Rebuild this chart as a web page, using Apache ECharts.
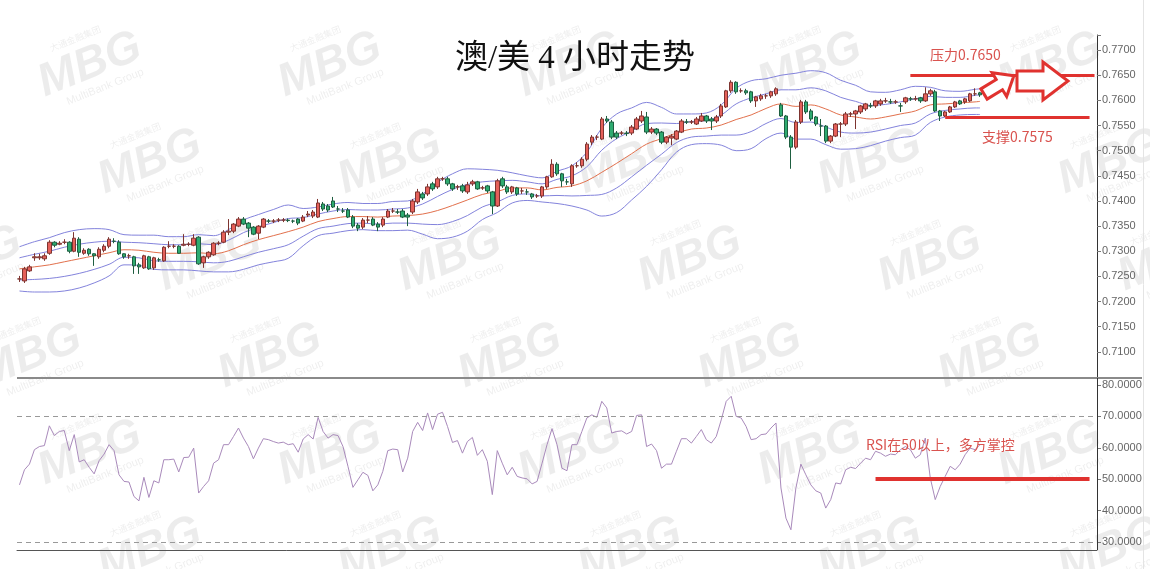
<!DOCTYPE html>
<html>
<head>
<meta charset="utf-8">
<script src="https://cdn.jsdelivr.net/npm/echarts@6/dist/echarts.min.js"></script>
<style>
  html, body { margin: 0; padding: 0; background: #fff; }
  #main { width: 1150px; height: 569px; }
</style>
</head>
<body>
<div id="main"></div>
<script>
// K线数据 [开, 收, 低, 高]
const candles = [
  [0.7245,0.7245,0.7239,0.7251],[0.7241,0.7265,0.7237,0.7269],[0.7261,0.7269,0.7259,0.7273],[0.7287,0.7289,0.7281,0.7296],
  [0.7287,0.7289,0.7283,0.7295],[0.7285,0.7291,0.7281,0.7296],[0.7296,0.7318,0.7293,0.7322],[0.7318,0.7312,0.7308,0.7320],
  [0.7314,0.7316,0.7312,0.7320],[0.7318,0.7318,0.7314,0.7324],[0.7318,0.7300,0.7296,0.7320],[0.7300,0.7326,0.7298,0.7338],
  [0.7324,0.7298,0.7289,0.7328],[0.7296,0.7302,0.7293,0.7306],[0.7304,0.7295,0.7291,0.7306],[0.7295,0.7291,0.7271,0.7296],
  [0.7289,0.7304,0.7285,0.7308],[0.7302,0.7310,0.7298,0.7314],[0.7310,0.7324,0.7306,0.7328],[0.7320,0.7320,0.7316,0.7326],
  [0.7318,0.7295,0.7293,0.7322],[0.7295,0.7289,0.7285,0.7296],[0.7291,0.7291,0.7285,0.7295],[0.7289,0.7271,0.7255,0.7291],
  [0.7273,0.7269,0.7255,0.7277],[0.7267,0.7291,0.7265,0.7293],[0.7289,0.7265,0.7263,0.7291],[0.7267,0.7287,0.7263,0.7289],
  [0.7283,0.7283,0.7279,0.7287],[0.7281,0.7308,0.7279,0.7310],[0.7310,0.7310,0.7306,0.7320],[0.7310,0.7310,0.7306,0.7314],
  [0.7310,0.7296,0.7295,0.7312],[0.7312,0.7314,0.7310,0.7334],[0.7314,0.7314,0.7310,0.7318],[0.7312,0.7326,0.7310,0.7334],
  [0.7328,0.7275,0.7273,0.7330],[0.7277,0.7289,0.7267,0.7291],[0.7289,0.7298,0.7285,0.7300],[0.7293,0.7316,0.7291,0.7318],
  [0.7316,0.7316,0.7312,0.7320],[0.7318,0.7338,0.7316,0.7342],[0.7338,0.7340,0.7332,0.7364],[0.7340,0.7354,0.7336,0.7356],
  [0.7350,0.7364,0.7348,0.7368],[0.7364,0.7354,0.7352,0.7368],[0.7356,0.7346,0.7328,0.7358],[0.7348,0.7334,0.7332,0.7350],
  [0.7336,0.7350,0.7324,0.7352],[0.7348,0.7364,0.7346,0.7366],[0.7360,0.7360,0.7356,0.7364],[0.7360,0.7360,0.7356,0.7364],
  [0.7362,0.7362,0.7358,0.7366],[0.7362,0.7362,0.7358,0.7366],[0.7362,0.7361,0.7358,0.7365],[0.7360,0.7360,0.7356,0.7363],
  [0.7364,0.7356,0.7352,0.7366],[0.7360,0.7368,0.7358,0.7372],[0.7372,0.7374,0.7368,0.7380],[0.7370,0.7378,0.7366,0.7382],
  [0.7368,0.7396,0.7366,0.7404],[0.7394,0.7384,0.7380,0.7398],[0.7390,0.7382,0.7378,0.7394],[0.7400,0.7388,0.7386,0.7408],
  [0.7384,0.7384,0.7378,0.7390],[0.7380,0.7380,0.7376,0.7386],[0.7382,0.7368,0.7366,0.7386],[0.7368,0.7350,0.7346,0.7372],
  [0.7352,0.7346,0.7340,0.7356],[0.7348,0.7362,0.7344,0.7366],[0.7362,0.7362,0.7356,0.7370],[0.7364,0.7352,0.7350,0.7368],
  [0.7354,0.7348,0.7340,0.7358],[0.7352,0.7364,0.7348,0.7368],[0.7368,0.7380,0.7366,0.7384],[0.7380,0.7380,0.7376,0.7386],
  [0.7378,0.7378,0.7374,0.7384],[0.7380,0.7368,0.7366,0.7384],[0.7372,0.7368,0.7350,0.7376],[0.7378,0.7400,0.7374,0.7404],
  [0.7398,0.7418,0.7394,0.7424],[0.7414,0.7406,0.7402,0.7418],[0.7414,0.7428,0.7410,0.7434],[0.7434,0.7424,0.7420,0.7438],
  [0.7428,0.7444,0.7424,0.7448],[0.7444,0.7444,0.7440,0.7448],[0.7444,0.7434,0.7430,0.7448],[0.7434,0.7424,0.7420,0.7436],
  [0.7428,0.7428,0.7422,0.7432],[0.7430,0.7420,0.7416,0.7434],[0.7418,0.7432,0.7414,0.7438],[0.7434,0.7438,0.7430,0.7442],
  [0.7438,0.7424,0.7422,0.7440],[0.7426,0.7426,0.7422,0.7430],[0.7430,0.7420,0.7416,0.7432],[0.7418,0.7390,0.7374,0.7420],
  [0.7390,0.7440,0.7388,0.7444],[0.7444,0.7430,0.7426,0.7448],[0.7428,0.7418,0.7414,0.7432],[0.7418,0.7428,0.7414,0.7430],
  [0.7426,0.7414,0.7410,0.7428],[0.7420,0.7420,0.7414,0.7426],[0.7418,0.7418,0.7412,0.7424],[0.7414,0.7408,0.7404,0.7416],
  [0.7410,0.7410,0.7406,0.7414],[0.7410,0.7428,0.7406,0.7430],[0.7428,0.7448,0.7424,0.7450],[0.7448,0.7473,0.7446,0.7483],
  [0.7473,0.7454,0.7450,0.7477],[0.7454,0.7440,0.7428,0.7456],[0.7438,0.7438,0.7432,0.7444],[0.7434,0.7470,0.7428,0.7473],
  [0.7470,0.7470,0.7466,0.7477],[0.7470,0.7483,0.7466,0.7487],[0.7483,0.7513,0.7479,0.7517],[0.7517,0.7527,0.7511,0.7531],
  [0.7527,0.7527,0.7521,0.7531],[0.7523,0.7563,0.7521,0.7567],[0.7563,0.7559,0.7555,0.7569],[0.7557,0.7527,0.7523,0.7561],
  [0.7535,0.7527,0.7523,0.7539],[0.7535,0.7535,0.7531,0.7539],[0.7535,0.7534,0.7529,0.7539],[0.7535,0.7547,0.7531,0.7551],
  [0.7543,0.7563,0.7541,0.7567],[0.7559,0.7569,0.7555,0.7579],[0.7567,0.7537,0.7533,0.7577],[0.7537,0.7543,0.7533,0.7547],
  [0.7543,0.7535,0.7531,0.7545],[0.7537,0.7517,0.7513,0.7539],[0.7517,0.7527,0.7513,0.7529],[0.7525,0.7529,0.7511,0.7533],
  [0.7523,0.7539,0.7521,0.7541],[0.7537,0.7559,0.7535,0.7563],[0.7557,0.7557,0.7553,0.7563],[0.7557,0.7557,0.7553,0.7561],
  [0.7553,0.7563,0.7551,0.7567],[0.7559,0.7569,0.7557,0.7575],[0.7569,0.7559,0.7555,0.7571],[0.7563,0.7559,0.7541,0.7567],
  [0.7559,0.7567,0.7555,0.7571],[0.7569,0.7589,0.7565,0.7593],[0.7587,0.7619,0.7585,0.7621],[0.7619,0.7636,0.7615,0.7640],
  [0.7636,0.7617,0.7613,0.7638],[0.7619,0.7619,0.7615,0.7624],[0.7619,0.7615,0.7611,0.7623],[0.7617,0.7599,0.7595,0.7619],
  [0.7599,0.7607,0.7587,0.7609],[0.7603,0.7609,0.7599,0.7613],[0.7609,0.7609,0.7603,0.7613],[0.7609,0.7617,0.7605,0.7619],
  [0.7613,0.7623,0.7609,0.7626],[0.7591,0.7569,0.7567,0.7595],[0.7569,0.7527,0.7523,0.7571],[0.7527,0.7507,0.7464,0.7531],
  [0.7507,0.7557,0.7503,0.7561],[0.7557,0.7597,0.7553,0.7601],[0.7597,0.7577,0.7573,0.7601],[0.7579,0.7563,0.7559,0.7583],
  [0.7567,0.7553,0.7549,0.7569],[0.7549,0.7549,0.7529,0.7563],[0.7549,0.7519,0.7515,0.7551],[0.7519,0.7529,0.7515,0.7531],
  [0.7529,0.7553,0.7527,0.7555],[0.7553,0.7553,0.7527,0.7557],[0.7553,0.7573,0.7549,0.7577],[0.7573,0.7573,0.7567,0.7577],
  [0.7573,0.7579,0.7543,0.7581],[0.7577,0.7589,0.7573,0.7591],[0.7583,0.7593,0.7579,0.7595],[0.7589,0.7589,0.7585,0.7595],
  [0.7589,0.7599,0.7585,0.7601],[0.7593,0.7599,0.7589,0.7603],[0.7599,0.7599,0.7595,0.7605],[0.7597,0.7597,0.7593,0.7603],
  [0.7597,0.7597,0.7593,0.7601],[0.7589,0.7589,0.7577,0.7595],[0.7597,0.7605,0.7593,0.7607],[0.7603,0.7603,0.7599,0.7607],
  [0.7603,0.7603,0.7599,0.7609],[0.7605,0.7599,0.7595,0.7607],[0.7599,0.7613,0.7597,0.7626],[0.7613,0.7619,0.7609,0.7623],
  [0.7617,0.7579,0.7577,0.7621],[0.7579,0.7569,0.7559,0.7581],[0.7569,0.7577,0.7567,0.7579],[0.7577,0.7587,0.7575,0.7589],
  [0.7587,0.7597,0.7585,0.7599],[0.7599,0.7593,0.7591,0.7601],[0.7597,0.7603,0.7593,0.7605],[0.7599,0.7613,0.7597,0.7615],
  [0.7613,0.7613,0.7609,0.7624],[0.7615,0.7611,0.7607,0.7617]
];

// 布林带读数(每 3 根 K 线取一点)
const bandIdx = [0,3,6,9,12,15,18,21,24,27,30,33,36,39,42,45,48,51,54,57,60,63,66,69,72,75,78,81,84,87,90,93,96,99,
  102,105,108,111,114,117,120,123,126,129,132,135,138,141,144,147,150,153,156,159,162,165,168,171,174,177,180,183,186,189,192,193];
const upper2 = [.7309,.7319,.7327,.7337,.7343,.7345,.7343,.7333,.7332,.7332,.7329,.7329,.7333,.7331,.7343,.7362,.7373,.7383,.7392,.7385,
  .7388,.7394,.7397,.7395,.7395,.7399,.7400,.7414,.7437,.7454,.7464,.7463,.7461,.7456,.7450,.7446,.7459,.7470,.7497,.7545,
  .7573,.7585,.7596,.7586,.7573,.7573,.7575,.7591,.7624,.7639,.7643,.7650,.7654,.7659,.7655,.7640,.7630,.7617,.7616,.7621,
  .7628,.7626,.7619,.7618,.7622,.7623];
const upper1 = [.7287,.7294,.7300,.7308,.7314,.7318,.7320,.7318,.7317,.7315,.7313,.7313,.7315,.7313,.7322,.7337,.7348,.7357,.7365,.7367,
  .7374,.7380,.7383,.7382,.7382,.7384,.7386,.7394,.7409,.7423,.7433,.7438,.7440,.7441,.7438,.7434,.7443,.7450,.7468,.7501,
  .7524,.7539,.7554,.7555,.7554,.7558,.7560,.7571,.7593,.7605,.7613,.7621,.7621,.7625,.7619,.7606,.7598,.7590,.7592,.7597,
  .7603,.7608,.7606,.7606,.7610,.7611];
const middle = [.7265,.7269,.7273,.7279,.7285,.7291,.7297,.7303,.7302,.7298,.7296,.7296,.7297,.7295,.7301,.7313,.7323,.7331,.7339,.7348,
  .7359,.7365,.7369,.7369,.7368,.7370,.7371,.7374,.7381,.7391,.7402,.7413,.7419,.7426,.7426,.7422,.7427,.7430,.7440,.7457,
  .7475,.7494,.7513,.7524,.7535,.7543,.7545,.7551,.7562,.7571,.7584,.7593,.7588,.7591,.7583,.7571,.7567,.7563,.7567,.7573,
  .7579,.7591,.7593,.7595,.7597,.7598];
const lower1 = [.7243,.7244,.7246,.7250,.7256,.7264,.7274,.7288,.7287,.7281,.7280,.7280,.7279,.7277,.7280,.7289,.7298,.7305,.7313,.7330,
  .7345,.7350,.7355,.7356,.7354,.7356,.7356,.7354,.7353,.7359,.7371,.7388,.7398,.7411,.7414,.7410,.7411,.7410,.7411,.7413,
  .7426,.7448,.7471,.7493,.7516,.7527,.7529,.7531,.7531,.7538,.7554,.7564,.7556,.7557,.7547,.7537,.7535,.7537,.7543,.7550,
  .7555,.7573,.7580,.7583,.7585,.7585];
const lower2 = [.7221,.7219,.7219,.7221,.7227,.7237,.7251,.7273,.7272,.7264,.7263,.7263,.7261,.7259,.7259,.7264,.7273,.7279,.7286,.7311,
  .7331,.7336,.7341,.7343,.7341,.7341,.7342,.7334,.7325,.7328,.7340,.7363,.7377,.7396,.7401,.7398,.7395,.7390,.7382,.7370,
  .7377,.7402,.7429,.7462,.7497,.7512,.7514,.7511,.7500,.7504,.7524,.7535,.7523,.7523,.7512,.7503,.7504,.7510,.7519,.7526,
  .7531,.7556,.7567,.7571,.7572,.7572];

// RSI
const rsi = [
  48.2,53.0,54.8,59.4,60.4,60.7,67.0,63.9,65.2,65.5,59.1,64.2,55.5,56.2,53.8,51.7,55.9,58.0,61.0,59.1,
  51.4,49.3,49.1,44.5,43.1,50.6,44.2,49.5,48.8,56.2,56.2,56.4,52.3,56.9,57.0,59.9,45.6,47.7,49.5,55.1,
  56.2,61.0,61.0,63.6,66.3,63.1,60.4,56.5,59.9,62.9,62.6,62.0,61.5,61.8,61.0,
  61.3,58.6,62.8,64.2,62.8,69.7,65.2,63.1,64.2,63.9,60.4,54.1,47.4,49.8,52.2,51.2,46.3,48.2,52.5,59.1,
  59.6,59.4,52.3,56.7,65.2,68.1,65.5,71.1,65.8,70.7,71.3,66.8,61.7,62.3,58.3,62.0,63.3,57.6,59.4,55.7,
  45.1,59.1,55.1,51.4,53.8,50.9,50.4,50.1,48.5,49.3,55.1,61.0,66.1,61.0,53.5,52.7,
  61.0,61.0,65.2,69.5,70.5,69.7,74.8,72.7,64.7,65.2,65.4,64.4,65.2,70.3,70.5,60.4,61.2,59.1,53.5,54.8,
  54.8,58.9,62.9,62.9,61.5,63.6,65.8,62.6,61.5,63.6,68.9,74.8,76.4,70.0,69.5,66.8,62.6,62.9,64.2,64.4,
  66.3,67.9,47.2,37.6,33.9,47.2,54.8,51.4,48.2,46.3,45.6,40.8,43.5,48.8,48.5,53.0,
  53.8,53.4,55.1,56.7,56.2,58.9,58.3,57.3,58.0,57.8,59.4,60.4,59.4,56.7,57.8,63.1,50.4,43.5,47.7,50.9,
  54.1,53.0,54.8,57.8,59.9,59.4,61.0
];

// 关键位
const resistance = 0.7650;
const supportDrawn = 0.7566;
const rsiLevel = 50;
const rsiDashed = [70, 30];

// 横轴槽位(右侧留空)
const slotCount = 217;
const slots = [];
for (let i = 0; i < slotCount; i++) slots.push(String(i));

const pairs = vals => bandIdx.map((k, j) => [k, vals[j]]);

const chart = echarts.init(document.getElementById('main'));

const red = '#e0322f';
const textRed = '#d9534f';
const cjk = "'Noto Sans CJK SC', 'Liberation Sans', sans-serif";
const bandBlue = '#8383dc';

const priceLabel = v => (v < 0.7075 || v > 0.7705) ? '' : v.toFixed(4);

// 水印
const watermarks = [];
for (let r = 0; r < 6; r++) {
  for (let c = -1; c < 5; c++) {
    const x = 90 + 60 * r + 240 * c;
    const y = 65 + 97 * r;
    if (x < -40 || x > 1180) continue;
    watermarks.push({
      type: 'group', x: x, y: y, rotation: 0.38, silent: true, z: 0,
      children: [
        { type: 'text', x: 0, y: 0, style: { text: 'MBG', fill: 'rgba(0,0,0,0.075)', font: 'italic bold 46px Liberation Sans', align: 'center', verticalAlign: 'middle' } },
        { type: 'text', x: 6, y: 26, style: { text: 'MultiBank Group', fill: 'rgba(0,0,0,0.07)', font: '11px Liberation Sans', align: 'center', verticalAlign: 'middle' } },
        { type: 'text', x: -4, y: -30, style: { text: '大通金融集团', fill: 'rgba(0,0,0,0.07)', font: '9px ' + cjk, align: 'center', verticalAlign: 'middle' } }
      ]
    });
  }
}

const bandLine = (name, vals, color) => ({
  name: name, type: 'line', data: pairs(vals), xAxisIndex: 0, yAxisIndex: 0,
  symbol: 'none', smooth: 0.35, z: 2, lineStyle: { color: color, width: 1 }
});

const option = {
  animation: false,
  backgroundColor: '#fff',
  title: {
    text: '澳/美 4 小时走势',
    left: 'center',
    top: 38,
    textStyle: {
      fontFamily: "'Liberation Serif', 'Noto Sans CJK SC', serif",
      fontSize: 33,
      fontWeight: 'normal',
      color: '#111'
    }
  },
  grid: [
    { left: 17, right: 53, top: 35, height: 342 },
    { left: 17, right: 53, top: 385, height: 157 }
  ],
  xAxis: [
    {
      type: 'category', gridIndex: 0, data: slots,
      axisLine: { show: false }, axisTick: { show: false }, axisLabel: { show: false }
    },
    {
      type: 'category', gridIndex: 1, data: slots, offset: 8,
      axisLine: { show: true, lineStyle: { color: '#555' } },
      axisTick: { show: false }, axisLabel: { show: false }
    }
  ],
  yAxis: [
    {
      type: 'value', gridIndex: 0, position: 'right',
      min: 0.705, max: 0.773, interval: 0.005,
      axisLine: { show: true, lineStyle: { color: '#333' } },
      axisTick: { show: true, length: 4, lineStyle: { color: '#777' } },
      axisLabel: { color: '#666', fontSize: 11, margin: 5, fontFamily: 'Liberation Sans', formatter: priceLabel },
      splitLine: { show: false }
    },
    {
      type: 'value', gridIndex: 1, position: 'right',
      min: 30, max: 80, interval: 10,
      axisLine: { show: true, lineStyle: { color: '#333' } },
      axisTick: { show: true, length: 4, lineStyle: { color: '#777' } },
      axisLabel: { color: '#666', fontSize: 11, margin: 5, fontFamily: 'Liberation Sans', formatter: v => v.toFixed(4) },
      splitLine: { show: false }
    }
  ],
  series: [
    bandLine('upper2', upper2, bandBlue),
    bandLine('upper1', upper1, bandBlue),
    bandLine('middle', middle, '#e2704c'),
    bandLine('lower1', lower1, bandBlue),
    bandLine('lower2', lower2, bandBlue),
    {
      name: 'AUDUSD', type: 'candlestick', data: candles, xAxisIndex: 0, yAxisIndex: 0,
      barWidth: 4, z: 3,
      itemStyle: {
        color: '#e5605a', color0: '#2eab70',
        borderColor: '#7d3430', borderColor0: '#1e5e40', borderWidth: 1
      },
      markLine: {
        silent: true, symbol: 'none', animation: false,
        label: { show: false },
        lineStyle: { color: red, width: 3, type: 'solid' },
        data: [
          [{ coord: [179, resistance] }, { coord: [216, resistance] }],
          [{ coord: [186, supportDrawn] }, { coord: [215, supportDrawn] }]
        ]
      }
    },
    {
      name: 'RSI', type: 'line', data: rsi, xAxisIndex: 1, yAxisIndex: 1,
      symbol: 'none', lineStyle: { color: '#a98abb', width: 1 },
      markLine: {
        silent: true, symbol: 'none', animation: false,
        label: { show: false },
        data: [
          { yAxis: rsiDashed[0], lineStyle: { color: '#999', width: 1, type: [5, 4] } },
          { yAxis: rsiDashed[1], lineStyle: { color: '#999', width: 1, type: [5, 4] } },
          [{ coord: [172, rsiLevel], lineStyle: { color: red, width: 4, type: 'solid' } }, { coord: [215, rsiLevel] }]
        ]
      }
    }
  ],
  graphic: watermarks.concat([
    // 分隔线与坐标轴延伸
    { type: 'line', z: 50, shape: { x1: 17, y1: 378, x2: 1142, y2: 378 }, style: { stroke: '#8a8a8a', lineWidth: 2 } },
    { type: 'line', z: 50, shape: { x1: 1097.5, y1: 378, x2: 1097.5, y2: 550 }, style: { stroke: '#333', lineWidth: 1 } },
    { type: 'line', z: 50, shape: { x1: 1143.5, y1: 0, x2: 1143.5, y2: 569 }, style: { stroke: '#e4e4e4', lineWidth: 1 } },
    // 文字标注
    { type: 'text', z: 50, left: 930, top: 48, style: { text: '压力0.7650', fill: textRed, font: '14px ' + cjk } },
    { type: 'text', z: 50, left: 982, top: 130, style: { text: '支撑0.7575', fill: textRed, font: '14px ' + cjk } },
    { type: 'text', z: 50, left: 866, top: 438, style: { text: 'RSI在50以上，多方掌控', fill: textRed, font: '14px ' + cjk } },
    // 箭头
    {
      type: 'polygon', x: 984, y: 94, rotation: 0.55, z: 60,
      shape: { points: [[0, -6], [18, -6], [18, -14], [35, 0], [18, 14], [18, 6], [0, 6]] },
      style: { fill: '#fff', stroke: red, lineWidth: 3 }
    },
    {
      type: 'polygon', z: 60,
      shape: { points: [[1017, 71], [1043, 71], [1043, 62], [1068, 81], [1043, 100], [1043, 91], [1017, 91]] },
      style: { fill: '#fff', stroke: red, lineWidth: 3 }
    }
  ])
};

chart.setOption(option);
</script>
</body>
</html>
